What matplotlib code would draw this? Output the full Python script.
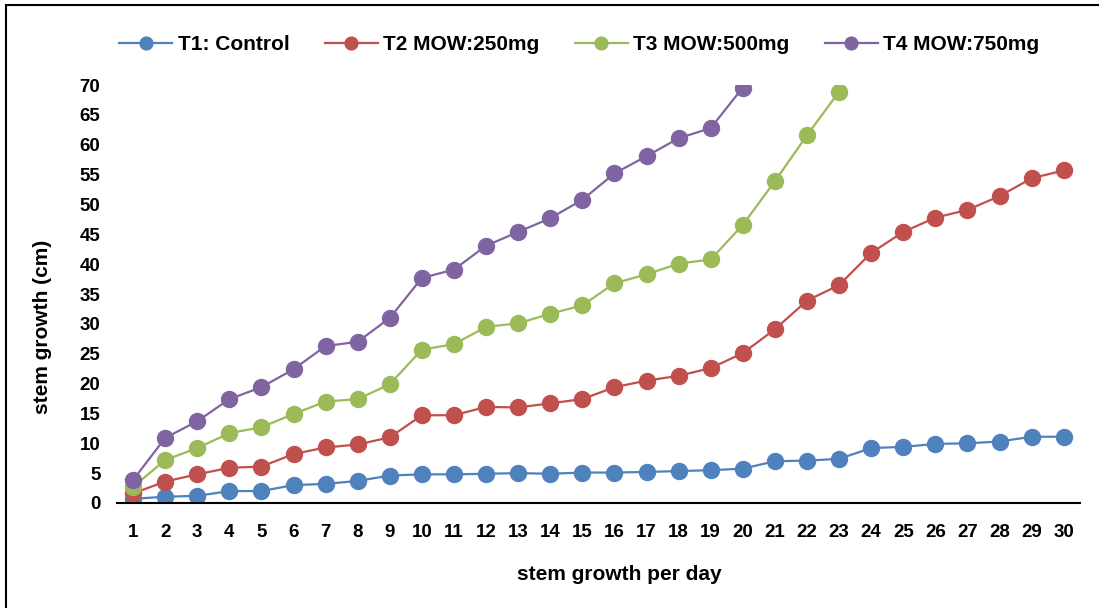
import numpy as np
import matplotlib.pyplot as plt
from matplotlib.patches import Rectangle

plt.rcParams['font.family'] = ['Liberation Sans', 'DejaVu Sans']

days = list(range(1, 31))
t1 = [0.7, 1.05, 1.2, 2.0, 2.0, 3.0, 3.2, 3.7, 4.6, 4.8, 4.8, 4.9, 5.0, 4.9, 5.1,
      5.1, 5.2, 5.35, 5.5, 5.75, 7.0, 7.1, 7.4, 9.2, 9.4, 9.9, 10.0, 10.3, 11.1, 11.1]
t2 = [1.6, 3.6, 4.8, 5.9, 6.1, 8.2, 9.3, 9.8, 11.0, 14.7, 14.7, 16.1, 16.0, 16.7, 17.4,
      19.4, 20.5, 21.3, 22.6, 25.1, 29.1, 33.9, 36.5, 41.9, 45.4, 47.8, 49.1, 51.4, 54.4, 55.7]
t3 = [2.7, 7.2, 9.2, 11.7, 12.7, 14.9, 17.0, 17.4, 19.9, 25.7, 26.6, 29.5, 30.1, 31.7, 33.1,
      36.8, 38.3, 40.1, 40.8, 46.6, 53.9, 61.6, 68.9]
t4 = [3.85, 10.9, 13.7, 17.4, 19.4, 22.4, 26.3, 27.0, 31.0, 37.7, 39.1, 43.1, 45.4, 47.7, 50.8,
      55.2, 58.1, 61.1, 62.8, 69.6]

labels = ['T1: Control', 'T2 MOW:250mg', 'T3 MOW:500mg', 'T4 MOW:750mg']
colors = ['#4F81BD', '#C0504D', '#9BBB59', '#8064A2']

fig = plt.figure(figsize=(10.99, 6.08), dpi=100)
ax = fig.add_axes([0.1065, 0.1727, 0.876, 0.6873])

for vals, lab, col in zip([t1, t2, t3, t4], labels, colors):
    ax.plot(days[:len(vals)], vals, color=col, lw=1.6, marker='o', ms=11.5,
            markeredgecolor=col, label=lab)

ax.set_xlim(0.5, 30.5)
ax.set_ylim(0, 70)
ax.set_xticks(days)
ax.set_yticks(range(0, 71, 5))
ax.tick_params(length=0, labelsize=13.5)
ax.tick_params(axis='x', pad=15)
ax.tick_params(axis='y', pad=12)
for t in ax.get_xticklabels() + ax.get_yticklabels():
    t.set_fontweight('bold')
for s in ['top', 'right', 'left']:
    ax.spines[s].set_visible(False)
ax.spines['bottom'].set_linewidth(1.5)
ax.spines['bottom'].set_color('black')

ax.set_xlabel('stem growth per day', fontsize=15, fontweight='bold')
ax.set_ylabel('stem growth (cm)', fontsize=15, fontweight='bold')
ax.xaxis.set_label_coords(0.522, -0.148)
ax.yaxis.set_label_coords(-0.068, 0.421)

fig.legend(loc='center', bbox_to_anchor=(0.527, 0.926), ncol=4, frameon=False,
           prop={'size': 15, 'weight': 'bold'}, handlelength=2.55, columnspacing=1.7,
           handletextpad=0.25, markerscale=0.8)

fig.patches.append(Rectangle((0.0055, -0.02), 1.1, 1.0118, transform=fig.transFigure,
                             fill=False, edgecolor='black', lw=1.5))

fig.savefig('out.png', dpi=100)
